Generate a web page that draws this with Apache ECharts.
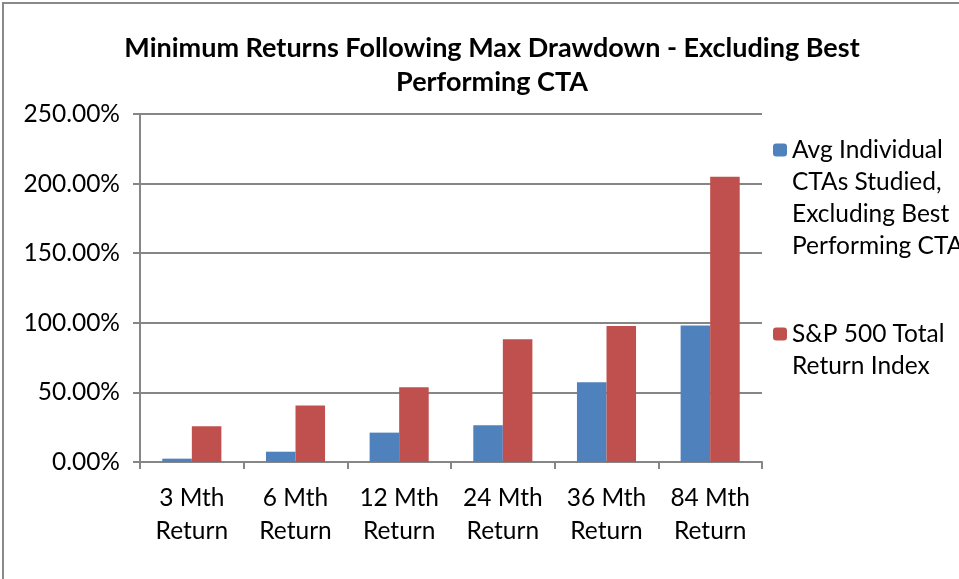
<!DOCTYPE html>
<html>
<head>
<meta charset="utf-8">
<script src="https://cdn.jsdelivr.net/npm/echarts@6/dist/echarts.min.js"></script>
<style>
  html, body { margin: 0; padding: 0; background: #fff; }
  #chart { width: 959px; height: 579px; }
</style>
</head>
<body>
<div id="chart"></div>
<script>
// --- data (percent) ---
const categories = ['3 Mth\nReturn', '6 Mth\nReturn', '12 Mth\nReturn', '24 Mth\nReturn', '36 Mth\nReturn', '84 Mth\nReturn']
const ctaValues  = [2.4, 7.4, 21.1, 26.4, 57.3, 98.0]
const spxValues  = [25.6, 40.5, 53.7, 88.1, 97.7, 205.0]
const ctaName = 'Avg Individual\nCTAs Studied,\nExcluding Best\nPerforming CTA'
const spxName = 'S&P 500 Total\nReturn Index'

const FONT = 'Lato'
const FS = 24.5 // axis / legend font size
const LH = 32   // legend line height

const chart = echarts.init(document.getElementById('chart'))
chart.setOption({
  animation: false,
  textStyle: { fontFamily: FONT, color: '#000' },
  title: {
    text: 'Minimum Returns Following Max Drawdown - Excluding Best\nPerforming CTA',
    left: 487, top: 26, textAlign: 'center',
    textStyle: { fontSize: 27, fontWeight: 'bold', lineHeight: 34, color: '#000', fontFamily: FONT }
  },
  // 图例：前面补空行，让图标对齐第一行文字
  legend: [
    {
      left: 773, top: 38, padding: 0,
      itemWidth: 14, itemHeight: 13, itemGap: 0,
      textStyle: { fontSize: FS, lineHeight: LH, color: '#000', fontFamily: FONT },
      formatter: name => '\n\n\n' + name,
      data: [ctaName]
    },
    {
      left: 773, top: 286, padding: 0,
      itemWidth: 14, itemHeight: 13, itemGap: 0,
      textStyle: { fontSize: FS, lineHeight: LH, color: '#000', fontFamily: FONT },
      formatter: name => '\n' + name,
      data: [spxName]
    }
  ],
  grid: { left: 140, right: 197, top: 114, bottom: 117, containLabel: false },
  xAxis: {
    type: 'category',
    data: categories,
    axisLine: { lineStyle: { color: '#868686', width: 2 } },
    axisTick: { show: true, length: 7, lineStyle: { color: '#868686', width: 2 } },
    axisLabel: { fontSize: FS, lineHeight: 33, color: '#000', margin: 20, fontFamily: FONT, interval: 0 }
  },
  yAxis: {
    type: 'value',
    min: 0, max: 250, interval: 50,
    axisLine: { show: true, lineStyle: { color: '#868686', width: 2 } },
    axisTick: { show: true, length: 7, lineStyle: { color: '#868686', width: 2 } },
    splitLine: { lineStyle: { color: '#868686', width: 2 } },
    axisLabel: { fontSize: FS, color: '#000', margin: 20, fontFamily: FONT,
      formatter: v => v.toFixed(2) + '%' }
  },
  series: [
    { name: ctaName, type: 'bar', data: ctaValues, barGap: 0, barCategoryGap: '43%',
      itemStyle: { color: '#4F81BD' } },
    { name: spxName, type: 'bar', data: spxValues, barGap: 0, barCategoryGap: '43%',
      itemStyle: { color: '#C0504D' } }
  ],
  graphic: [
    { type: 'rect', silent: true, z: -1,
      shape: { x: 3, y: 3, width: 1100, height: 1100 },
      style: { fill: 'none', stroke: '#898989', lineWidth: 2 } }
  ]
})
</script>
</body>
</html>
